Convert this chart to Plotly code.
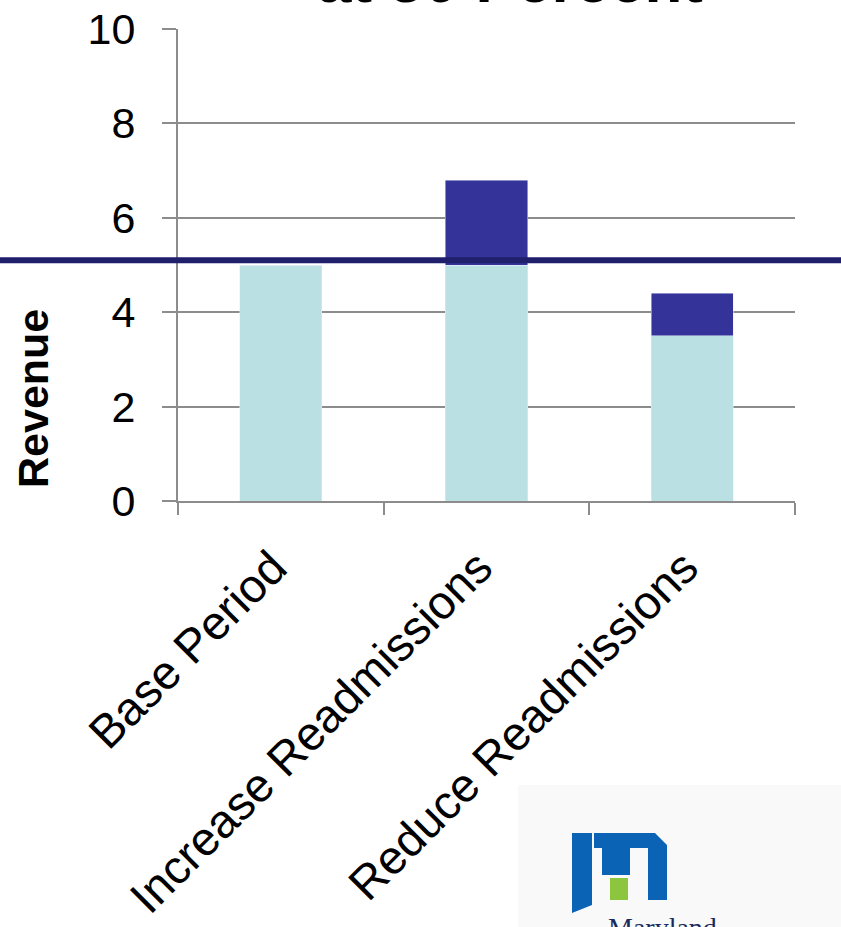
import plotly.graph_objects as go

categories = ["Base Period", "Increase Readmissions", "Reduce Readmissions"]
base_revenue = [5.0, 5.0, 3.5]
added_revenue = [0.0, 1.8, 0.9]
threshold = 5.1
y_ticks = [0, 2, 4, 6, 8, 10]

W, H = 841, 927
L, R, T, B = 178, 46, 29, 426
PW, PH = W - L - R, H - T - B

def px(x):
    return (x - L) / PW

def py(y):
    return (H - B - y) / PH

fig = go.Figure()
fig.add_trace(go.Bar(x=categories, y=base_revenue, marker_color="#bbe0e3",
                     width=0.4, showlegend=False))
fig.add_trace(go.Bar(x=categories, y=added_revenue, marker_color="#333399",
                     width=0.4, showlegend=False))

fig.update_layout(
    width=W, height=H, barmode="stack",
    margin=dict(l=L, r=R, t=T, b=B, pad=0, autoexpand=False),
    paper_bgcolor="white", plot_bgcolor="white",
    font=dict(family="Liberation Sans, Arial", color="black"),
    xaxis=dict(type="category", showline=True, linecolor="#8c8c8c", linewidth=2,
               ticks="outside", tickson="boundaries", ticklen=12, tickwidth=2,
               tickcolor="#8c8c8c", tickangle=-45, tickfont=dict(size=47),
               showgrid=False, automargin=False, ticklabelstandoff=18,
               ticklabelshift=-8),
    yaxis=dict(range=[0, 10], tickvals=y_ticks, showline=True, linecolor="#8c8c8c",
               linewidth=2, ticks="outside", ticklen=14, tickwidth=2,
               tickcolor="#8c8c8c", tickfont=dict(size=43), showgrid=True,
               gridcolor="#8c8c8c", gridwidth=2, zeroline=False, automargin=False,
               ticklabelstandoff=18),
)

# threshold line across the whole page
fig.add_shape(type="line", xref="paper", yref="y", x0=px(0), x1=px(W), y0=threshold,
              y1=threshold, line=dict(color="#1f1f6b", width=6), layer="above")

# partial title at the top
fig.add_annotation(text="<b>at 50 Percent</b>", xref="paper", yref="paper",
                   x=px(510), y=py(17), xanchor="center", yanchor="bottom",
                   showarrow=False, font=dict(size=62, color="black"))

# y axis title
fig.add_annotation(text="<b>Revenue</b>", xref="paper", yref="paper",
                   x=px(33), y=py(399), xanchor="center", yanchor="middle",
                   textangle=-90, showarrow=False, font=dict(size=43, color="black"))

# logo
fig.add_shape(type="rect", xref="paper", yref="paper", x0=px(518), x1=px(860),
              y0=py(940), y1=py(785), fillcolor="#f9f9f9", line=dict(width=0),
              layer="above")

def path(points):
    return "M " + " L ".join(f"{px(a)},{py(b)}" for a, b in points) + " Z"

fig.add_shape(type="path", xref="paper", yref="paper",
              path=path([(572, 833), (592, 833), (592, 905), (572, 913)]),
              fillcolor="#0b63b5", line=dict(width=0), layer="above")
fig.add_shape(type="path", xref="paper", yref="paper",
              path=path([(594, 833), (655, 833), (667, 845), (667, 900), (648, 900),
                         (648, 848), (630, 848), (630, 875), (602, 875), (602, 848),
                         (594, 848)]),
              fillcolor="#0b63b5", line=dict(width=0), layer="above")
fig.add_shape(type="rect", xref="paper", yref="paper", x0=px(610), x1=px(628),
              y0=py(900), y1=py(878), fillcolor="#8cc63e", line=dict(width=0),
              layer="above")
fig.add_annotation(text="Maryland", xref="paper", yref="paper", x=px(662), y=py(910),
                   xanchor="center", yanchor="top", showarrow=False,
                   font=dict(family="Liberation Serif, Times New Roman", size=28,
                             color="#1b2a5c"))

fig.write_html("out.html")
